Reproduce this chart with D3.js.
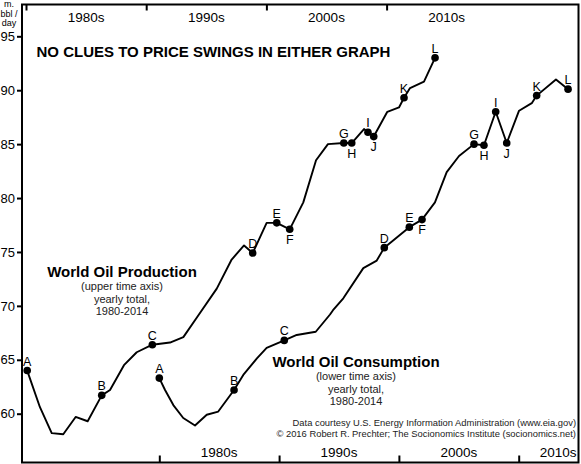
<!DOCTYPE html>
<html>
<head>
    <meta charset="utf-8">
    <title>World oil production and consumption</title>
    <style>
        body { margin: 0; background: #fff; }
        svg { display: block; font-family: "Liberation Sans", Arial, sans-serif; }
        .frame { fill: none; stroke: #000; stroke-width: 2px; }
        .series { fill: none; stroke: #000; stroke-width: 1.9px; stroke-linejoin: round; }
        .axis path { display: none; }
        .axis line { stroke: #000; stroke-width: 2px; }
        .axis text { font-size: 13px; fill: #000; }
        .decade { font-size: 13.5px; fill: #000; }
        .mark-label { font-size: 12.5px; fill: #000; text-anchor: middle; }
        .note { fill: #222; text-anchor: middle; font-size: 11px; }
        .headline { font-weight: bold; fill: #000; font-size: 15px; }
        .note-title { font-weight: bold; fill: #000; text-anchor: middle; font-size: 15px; }
        .source { font-size: 9.4px; fill: #222; text-anchor: end; }
    </style>
</head>
<body>
<div class="viz"></div>
<script src="https://cdnjs.cloudflare.com/ajax/libs/d3/7.8.5/d3.min.js"></script>
<script>
    // world oil production, m. bbl/day (upper time axis)
    var prodYears = [1980.1, 1981.16, 1982.14, 1983.1, 1984.13, 1985.13, 1986.3, 1986.99, 1988.15, 1989.21,
        1990.51, 1991.98, 1993.09, 1994.33, 1995.87, 1997.11, 1998.14, 1998.86, 2000.02, 2000.86,
        2001.94, 2003.07, 2004.13, 2005.12, 2006.44, 2007.1, 2008.12, 2008.45, 2008.93, 2010.06,
        2011.03, 2011.45, 2011.95, 2013.11, 2014.03];
    var prodValues = [64.0, 60.6, 58.2, 58.1, 59.7, 59.3, 61.7, 62.2, 64.5, 65.7,
        66.4, 66.6, 67.1, 69.1, 71.6, 74.3, 75.6, 74.9, 77.7, 77.7,
        77.1, 79.6, 83.5, 85.0, 85.1, 85.1, 86.4, 86.1, 85.7, 88.0,
        88.4, 89.3, 90.2, 90.8, 93.0];
    var prodLabels = ["A", "", "", "", "", "", "B", "", "", "",
        "C", "", "", "", "", "", "", "D", "", "E",
        "F", "", "", "", "G", "H", "", "I", "J", "",
        "", "K", "", "", "L"];

    // world oil consumption, m. bbl/day (lower time axis)
    var consYears = [1980.0, 1980.48, 1981.17, 1982.0, 1982.98, 1983.96, 1984.92, 1986.24, 1987.01, 1988.13,
        1988.96, 1990.43, 1991.47, 1993.06, 1994.25, 1994.5, 1995.36, 1997.03, 1998.15, 1998.78,
        2000.87, 2001.93, 2003.01, 2003.99, 2005.02, 2006.27, 2007.1, 2008.08, 2009.0, 2010.03,
        2011.09, 2011.5, 2013.11, 2014.12];
    var consValues = [63.3, 62.2, 60.8, 59.6, 58.9, 59.9, 60.2, 62.2, 63.6, 65.1,
        66.1, 66.8, 67.3, 67.6, 69.2, 69.6, 70.7, 73.5, 74.2, 75.4,
        77.3, 78.0, 79.6, 82.4, 83.9, 85.0, 84.9, 88.0, 85.1, 88.1,
        88.8, 89.5, 91.0, 90.1];
    var consLabels = ["A", "", "", "", "", "", "", "B", "", "",
        "", "C", "", "", "", "", "", "", "", "D",
        "E", "F", "", "", "", "G", "H", "I", "J", "",
        "", "K", "", "L"];

    var yTicks = [60, 65, 70, 75, 80, 85, 90, 95];
    var decadeTicks = [1980, 1990, 2000, 2010];
    var decadeLabels = ["1980s", "1990s", "2000s", "2010s"];
    var belowLabels = ["F", "H", "J"];

    var width = 581, height = 464;
    var frame = {left: 22, right: 578.5, top: 4.5, bottom: 462.5};

    var svg = d3.select('.viz').append('svg')
        .attr('width', width)
        .attr('height', height);

    var y = d3.scaleLinear().domain([60, 95]).range([413.7, 36.3]);
    var xTop = d3.scaleLinear().domain([1980, 2010]).range([26, 386.6]);
    var xBot = d3.scaleLinear().domain([1980, 2010]).range([159.3, 518.7]);

    // frame
    svg.append('rect')
        .attr('class', 'frame')
        .attr('x', frame.left)
        .attr('y', frame.top)
        .attr('width', frame.right - frame.left)
        .attr('height', frame.bottom - frame.top);

    // y axis
    svg.append('g')
        .attr('class', 'axis')
        .attr('transform', 'translate(' + frame.left + ',0)')
        .call(d3.axisLeft(y).tickValues(yTicks).tickSize(5).tickPadding(2));

    // top time axis (production)
    svg.append('g')
        .attr('class', 'axis')
        .attr('transform', 'translate(0,' + frame.top + ')')
        .call(d3.axisBottom(xTop).tickValues(decadeTicks).tickSize(6).tickFormat(''));

    // bottom time axis (consumption)
    svg.append('g')
        .attr('class', 'axis')
        .attr('transform', 'translate(0,' + frame.bottom + ')')
        .call(d3.axisTop(xBot).tickValues(decadeTicks).tickSize(7).tickFormat(''));

    svg.append('g').selectAll('text')
        .data(decadeTicks)
        .enter().append('text')
        .attr('class', 'decade')
        .attr('text-anchor', 'middle')
        .attr('x', function (d) { return xTop(d + 5); })
        .attr('y', 21.5)
        .text(function (d, i) { return decadeLabels[i]; });

    svg.append('g').selectAll('text')
        .data(decadeTicks)
        .enter().append('text')
        .attr('class', 'decade')
        .attr('text-anchor', 'middle')
        .attr('x', function (d) { return xBot(d + 5); })
        .attr('y', 456.5)
        .text(function (d, i) { return decadeLabels[i]; })
        .each(function () {
            // keep the last label inside the frame
            var w = this.getComputedTextLength();
            var cx = +d3.select(this).attr('x');
            if (cx + w / 2 > frame.right - 2) d3.select(this).attr('x', frame.right - 2 - w / 2);
        });

    // unit label
    svg.append('g').selectAll('text')
        .data(["m.", "bbl /", "day"])
        .enter().append('text')
        .attr('x', 9)
        .attr('y', function (d, i) { return 7 + i * 9.5; })
        .attr('text-anchor', 'middle')
        .attr('font-size', '9px')
        .text(function (d) { return d; });

    function drawSeries(xs, years, values, labels) {
        var pts = years.map(function (yr, i) { return {x: xs(yr), y: y(values[i]), label: labels[i]}; });
        var line = d3.line().x(function (d) { return d.x; }).y(function (d) { return d.y; });

        svg.append('path')
            .datum(pts)
            .attr('class', 'series')
            .attr('d', line);

        var marks = pts.filter(function (d) { return d.label !== ""; });

        svg.append('g').selectAll('circle')
            .data(marks)
            .enter().append('circle')
            .attr('cx', function (d) { return d.x; })
            .attr('cy', function (d) { return d.y; })
            .attr('r', 3.8)
            .attr('fill', '#000');

        svg.append('g').selectAll('text')
            .data(marks)
            .enter().append('text')
            .attr('class', 'mark-label')
            .attr('x', function (d) { return d.x; })
            .attr('y', function (d) {
                return belowLabels.indexOf(d.label) >= 0 ? d.y + 14.5 : d.y - 5;
            })
            .text(function (d) { return d.label; });
    }

    drawSeries(xTop, prodYears, prodValues, prodLabels);
    drawSeries(xBot, consYears, consValues, consLabels);

    // headline
    svg.append('text')
        .attr('class', 'headline')
        .attr('x', 36.5)
        .attr('y', 57)
        .text('NO CLUES TO PRICE SWINGS IN EITHER GRAPH');

    function noteBlock(cx, top, title, lines) {
        svg.append('text')
            .attr('class', 'note-title')
            .attr('x', cx)
            .attr('y', top)
            .text(title);
        svg.append('g').selectAll('text')
            .data(lines)
            .enter().append('text')
            .attr('class', 'note')
            .attr('x', cx)
            .attr('y', function (d, i) { return top + 13.5 + i * 12.5; })
            .text(function (d) { return d; });
    }

    noteBlock(122, 276.5, 'World Oil Production', ['(upper time axis)', 'yearly total,', '1980-2014']);
    noteBlock(356, 366.5, 'World Oil Consumption', ['(lower time axis)', 'yearly total,', '1980-2014']);

    svg.append('text')
        .attr('class', 'source')
        .attr('x', 576)
        .attr('y', 425.5)
        .text('Data courtesy U.S. Energy Information Administration (www.eia.gov)');
    svg.append('text')
        .attr('class', 'source')
        .attr('x', 576)
        .attr('y', 437)
        .text('\u00a9 2016 Robert R. Prechter; The Socionomics Institute (socionomics.net)');
</script>
</body>
</html>
